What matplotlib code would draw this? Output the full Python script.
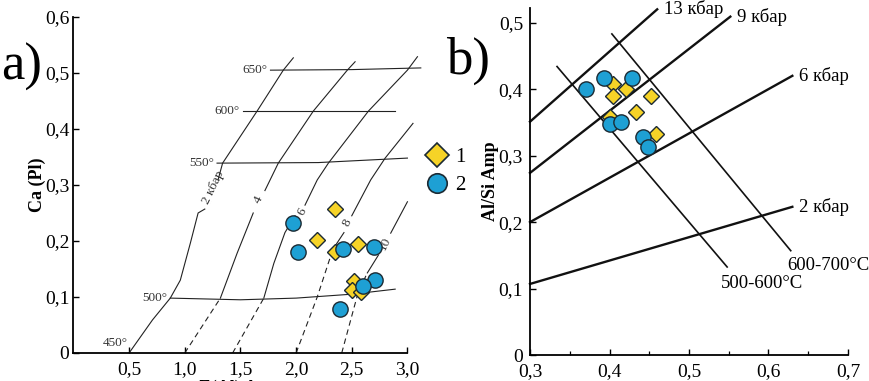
import numpy as np
import matplotlib
matplotlib.use('Agg')
import matplotlib.pyplot as plt
from matplotlib.lines import Line2D
from matplotlib.ticker import MultipleLocator, FuncFormatter

plt.rcParams['font.family'] = ['Liberation Serif', 'DejaVu Serif']

# ---- a) Ca(Pl) vs Al(Amp) ----
a_dia_x = [2.35, 2.19, 2.35, 2.56, 2.52, 2.50, 2.58]
a_dia_y = [0.257, 0.202, 0.180, 0.195, 0.128, 0.113, 0.109]
a_cir_x = [1.975, 2.02, 2.42, 2.70, 2.71, 2.60, 2.39]
a_cir_y = [0.232, 0.180, 0.185, 0.189, 0.130, 0.120, 0.079]

# isotherms (label, x, y)
iso_t_labels = ['650°', '600°', '550°', '500°']
iso_t_x = [[1.77, 2.5, 3.12], [1.52, 2.2, 2.89], [1.29, 2.2, 3.0], [0.87, 1.5, 2.0, 2.5, 2.89]]
iso_t_y = [[0.505, 0.506, 0.509], [0.432, 0.432, 0.432], [0.339, 0.340, 0.348], [0.098, 0.095, 0.098, 0.105, 0.114]]

# isobars: dashed part, solid lower part, solid upper part, label
bar_labels = ['2 кбар', '4', '6', '8', '10']
bar_dash_x = [[], [1.0, 1.32], [1.43, 1.71], [2.0, 2.19, 2.33], [2.41, 2.56, 2.64]]
bar_dash_y = [[], [0.0, 0.098], [0.0, 0.098], [0.0, 0.10, 0.185], [0.0, 0.11, 0.143]]
bar_low_x = [[0.5, 0.71, 0.87, 0.96, 1.05, 1.12, 1.18],
             [1.32, 1.47, 1.615], [1.71, 1.80, 1.90, 1.99], [2.33, 2.43], [2.64, 2.74]]
bar_low_y = [[0.0, 0.059, 0.098, 0.13, 0.196, 0.25, 0.257],
             [0.098, 0.178, 0.25], [0.098, 0.16, 0.215, 0.245], [0.185, 0.215], [0.143, 0.175]]
bar_up_x = [[1.30, 1.34, 1.65, 1.885, 1.975], [1.72, 1.84, 2.155, 2.46, 2.53],
            [2.08, 2.19, 2.29, 2.65, 3.0, 3.09], [2.50, 2.67, 2.80, 3.05], [2.85, 3.0]]
bar_up_y = [[0.31, 0.339, 0.432, 0.505, 0.527], [0.29, 0.339, 0.432, 0.505, 0.52],
            [0.264, 0.309, 0.339, 0.432, 0.505, 0.529], [0.245, 0.309, 0.348, 0.41], [0.214, 0.27]]
bar_lab_x = [1.255, 1.66, 2.05, 2.46, 2.80]
bar_lab_y = [0.295, 0.273, 0.252, 0.232, 0.196]

# ---- b) Al/Si Amp vs x ----
b_dia_x = [0.404, 0.421, 0.404, 0.452, 0.433, 0.400, 0.458]
b_dia_y = [0.407, 0.400, 0.389, 0.390, 0.365, 0.358, 0.333]
b_cir_x = [0.370, 0.393, 0.428, 0.400, 0.414, 0.442, 0.448]
b_cir_y = [0.400, 0.417, 0.417, 0.348, 0.351, 0.328, 0.313]

b_bar_labels = ['13 кбар', '9 кбар', '6 кбар', '2 кбар']
b_bar_x = [[0.30, 0.46], [0.30, 0.552], [0.30, 0.63], [0.30, 0.63]]
b_bar_y = [[0.351, 0.52], [0.274, 0.509], [0.200, 0.420], [0.107, 0.223]]
b_t_labels = ['500-600°C', '600-700°C']
b_t_x = [[0.334, 0.548], [0.403, 0.628]]
b_t_y = [[0.434, 0.1325], [0.483, 0.157]]

yellow = '#f6d327'
blue = '#1ea0d4'
edge = '#1b2a33'

fig = plt.figure(figsize=(8.7, 3.81), dpi=100)
ax1 = fig.add_axes([0.0844, 0.0735, 0.3839, 0.882])
ax2 = fig.add_axes([0.6092, 0.068, 0.3655, 0.911])

comma = FuncFormatter(lambda v, p: '0' if abs(v) < 1e-9 else ('%.1f' % v).replace('.', ','))

for ax in (ax1, ax2):
    ax.spines['top'].set_visible(False)
    ax.spines['right'].set_visible(False)
    ax.spines['left'].set_linewidth(1.3)
    ax.spines['bottom'].set_linewidth(1.3)
    ax.tick_params(direction='in', length=4, width=1.0, labelsize=14, pad=3)
    ax.tick_params(axis='x', pad=6)
    ax.tick_params(which='minor', direction='in', length=3, width=0.9)
    ax.xaxis.set_major_formatter(comma)
    ax.yaxis.set_major_formatter(comma)

# --- a ---
ax1.set_xlim(0, 3.0)
ax1.set_ylim(0, 0.6)
ax1.set_xticks([0.5, 1.0, 1.5, 2.0, 2.5, 3.0])
ax1.set_yticks(np.arange(0, 0.61, 0.1))

lw = 0.8
for lab, xs, ys in zip(iso_t_labels, iso_t_x, iso_t_y):
    ax1.plot(xs, ys, color='#222', lw=lw, clip_on=False)
    ax1.text(xs[0] - 0.03, ys[0], lab, ha='right', va='center', fontsize=9.5, color='#333')
ax1.text(0.49, 0.008, '450°', ha='right', va='bottom', fontsize=9.5, color='#333')

for i in range(len(bar_labels)):
    if bar_dash_x[i]:
        ax1.plot(bar_dash_x[i], bar_dash_y[i], color='#222', lw=lw, ls=(0, (5, 3.5)))
    ax1.plot(bar_low_x[i], bar_low_y[i], color='#222', lw=lw)
    ax1.plot(bar_up_x[i], bar_up_y[i], color='#222', lw=lw, clip_on=False)
    ax1.text(bar_lab_x[i], bar_lab_y[i], bar_labels[i], rotation=64, ha='center', va='center',
             rotation_mode='anchor', fontsize=9.5, color='#333')

ax1.plot(a_dia_x, a_dia_y, 'D', ms=8.5, mfc=yellow, mec=edge, mew=1.0, ls='none', zorder=3)
ax1.plot(a_cir_x, a_cir_y, 'o', ms=11, mfc=blue, mec=edge, mew=1.0, ls='none', zorder=4)

ax1.set_ylabel('Ca (Pl)', fontsize=13, fontweight='bold', labelpad=-1)
# label is cut by the bottom edge, as in the source figure
ax1.set_xlabel('Σ(Al) Amp', fontsize=13, fontweight='bold', labelpad=1)

handles = [Line2D([], [], marker='D', ms=12, mfc=yellow, mec=edge, mew=1.2, ls='none'),
           Line2D([], [], marker='o', ms=14, mfc=blue, mec=edge, mew=1.2, ls='none')]
fig.legend(handles, ['1', '2'], loc='center left', bbox_to_anchor=(0.478, 0.551),
           frameon=False, fontsize=15, handlelength=1.0, handletextpad=0.4,
           labelspacing=0.4, borderpad=0)

fig.text(0.025, 0.825, 'a)', fontsize=38, ha='center', va='center')
fig.text(0.538, 0.84, 'b)', fontsize=38, ha='center', va='center')

# --- b ---
ax2.set_xlim(0.3, 0.7)
ax2.set_ylim(0, 0.522)
ax2.set_xticks([0.3, 0.4, 0.5, 0.6, 0.7])
ax2.xaxis.set_minor_locator(MultipleLocator(0.05))
ax2.set_yticks(np.arange(0, 0.51, 0.1))
ax2.tick_params(axis='y', pad=5)

for lab, xs, ys in zip(b_bar_labels, b_bar_x, b_bar_y):
    ax2.plot(xs, ys, color='#111', lw=1.7, clip_on=False)
    ax2.text(xs[-1] + 0.008, ys[-1], lab, ha='left', va='center', fontsize=13.5)
for xs, ys in zip(b_t_x, b_t_y):
    ax2.plot(xs, ys, color='#111', lw=1.2)
ax2.text(0.592, 0.108, b_t_labels[0], ha='center', va='center', fontsize=13.5)
ax2.text(0.675, 0.134, b_t_labels[1], ha='center', va='center', fontsize=13.5, clip_on=False)

ax2.plot(b_dia_x, b_dia_y, 'D', ms=8.5, mfc=yellow, mec=edge, mew=1.0, ls='none', zorder=3)
ax2.plot(b_cir_x, b_cir_y, 'o', ms=11, mfc=blue, mec=edge, mew=1.0, ls='none', zorder=4)

ax2.set_ylabel('Al/Si Amp', fontsize=13, fontweight='bold', labelpad=0)

fig.savefig('out.png', dpi=100)
